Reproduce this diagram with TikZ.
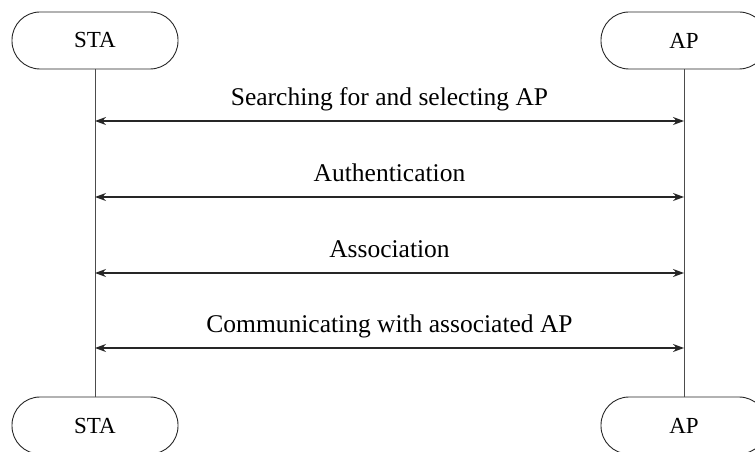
\documentclass[tikz,border=0pt]{standalone}
\usepackage{fontspec}
\setmainfont{Liberation Serif}
\usetikzlibrary{arrows.meta}
\begin{document}
\begin{tikzpicture}[x=1bp,y=-1bp,
  actor/.style={draw=black!85, line width=0.9bp, rounded corners=28bp, minimum width=166bp, minimum height=57bp, inner sep=0pt, font=\fontsize{23bp}{27bp}\selectfont},
  lifeline/.style={draw=black!70, line width=1bp},
  msg/.style={draw=black!85, line width=1.1bp, {Stealth[length=11bp,width=8bp]}-{Stealth[length=11bp,width=8bp]}},
  lbl/.style={font=\fontsize{25.5bp}{30bp}\selectfont, inner sep=0pt, anchor=base, yshift=15bp}]
\useasboundingbox (0,0) rectangle (755,452);
\node[actor] (sta1) at (95,40.5) {STA};
\node[actor] (ap1) at (684,40.5) {AP};
\node[actor] (sta2) at (95,425.5) {STA};
\node[actor] (ap2) at (684,425.5) {AP};
\draw[lifeline] (sta1.south) -- (sta2.north);
\draw[lifeline] (ap1.south) -- (ap2.north);
\foreach \n/\y in {a/121,b/197,c/273,d/348}{
  \coordinate (L\n) at (95,\y);
  \coordinate (R\n) at (684,\y);
}
\draw[msg] (La) -- (Ra) node[lbl, midway] (ta) {Searching for and selecting AP};
\draw[msg] (Lb) -- (Rb) node[lbl, midway] (tb) {Authentication};
\draw[msg] (Lc) -- (Rc) node[lbl, midway] (tc) {Association};
\draw[msg] (Ld) -- (Rd) node[lbl, midway] (td) {Communicating with associated AP};
\end{tikzpicture}
\end{document}
